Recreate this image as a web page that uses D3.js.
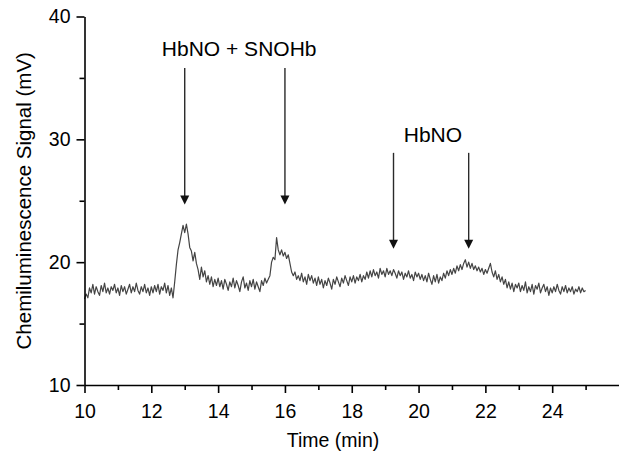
<!DOCTYPE html>
<html>
<head>
<meta charset="utf-8">
<script src="https://cdn.jsdelivr.net/npm/d3@7"></script>
<style>
  body { margin: 0; background: #fff; }
  svg text { font-family: "Liberation Sans", Arial, Helvetica, sans-serif; fill: #000; }
  .axis path, .axis line { stroke: #000; stroke-width: 1.6; }
  .signal { fill: none; stroke: #444; stroke-width: 1.2; stroke-linejoin: round; }
  .arrow line { stroke: #2a2a2a; stroke-width: 1.4; }
  .arrow path { fill: #111; }
</style>
</head>
<body>
<script>
// sampling of the trace (min)
var sampleStart = 10;
var sampleStep = 0.05;

// chemiluminescence signal (mV), one row per minute, 20 samples each
var signal = [
  17.0, 17.4, 17.1, 17.9, 17.5, 18.2, 17.4, 18.0, 17.6, 17.3, 18.1, 17.6, 18.3, 17.5, 17.9, 17.4, 18.0, 17.7, 18.2, 17.5,
  17.9, 17.3, 18.1, 17.6, 18.0, 17.4, 17.8, 18.2, 17.5, 18.0, 17.6, 18.3, 17.7, 17.4, 18.0, 17.6, 18.2, 17.5, 17.9, 17.3,
  18.0, 17.5, 18.1, 17.6, 18.2, 17.4, 18.0, 17.7, 18.3, 17.5, 18.1, 17.3, 17.9, 17.1, 18.4, 19.8, 21.0, 21.6, 22.3, 23.0,
  22.4, 23.1, 22.3, 21.2, 20.9, 20.1, 20.8, 19.9, 19.4, 18.6, 19.6, 18.8, 19.3, 18.4, 18.9, 18.2, 18.8, 18.0, 18.6, 18.1,
  18.7, 18.0, 18.5, 17.8, 18.6, 18.2, 17.7, 18.4, 18.0, 18.7, 17.9, 18.5, 18.1, 17.6, 18.4, 18.8, 17.9, 18.3, 17.7, 18.5,
  18.0, 18.6, 17.8, 18.4, 18.0, 17.6, 18.5, 18.1, 18.7, 18.3, 18.6, 18.9, 20.0, 20.4, 20.2, 22.0, 21.0, 20.6, 21.0, 20.5,
  20.8, 20.3, 20.6, 19.9, 19.2, 18.9, 19.2, 18.6, 18.9, 18.5, 19.1, 18.4, 18.8, 18.2, 19.0, 18.5, 18.9, 18.3, 18.7, 18.1,
  18.8, 18.2, 18.6, 17.9, 18.5, 18.1, 18.7, 18.3, 17.8, 18.6, 18.2, 18.8, 18.4, 18.0, 18.7, 18.3, 18.9, 18.5, 18.1, 18.8,
  18.4, 18.9, 18.3, 18.8, 18.5, 19.0, 18.4, 18.9, 18.6, 19.2, 18.7, 19.3, 18.8, 19.4, 18.9, 19.2, 18.7, 19.5, 19.0, 19.3,
  18.8, 19.5, 19.0, 19.3, 18.9, 19.4, 19.1, 18.7, 19.3, 18.9, 19.2, 18.6, 19.1, 18.8, 19.3, 18.7, 19.0, 18.5, 19.2, 18.8,
  19.1, 18.6, 19.0, 18.5, 18.9, 18.4, 19.1, 18.6, 18.2, 18.9, 18.4, 19.0, 18.3, 18.8, 18.5, 19.1, 18.7, 19.3, 18.9, 19.4,
  19.0, 19.5, 19.1, 19.7, 19.3, 19.8, 19.4, 19.9, 20.2, 19.6, 20.0, 19.5, 19.9, 19.4, 19.7, 19.3, 19.6, 19.2, 19.5, 19.0,
  19.4, 19.1, 19.5, 19.9, 19.2, 18.8, 19.3, 18.6, 19.0, 18.4, 18.8, 18.2, 18.6, 17.9, 18.4, 17.8, 18.3, 17.6, 18.2, 17.9,
  18.3, 17.6, 18.1, 17.7, 18.4, 17.5, 18.0, 17.6, 18.2, 17.4, 18.1, 17.8, 18.3, 17.5, 17.9, 18.2, 17.6, 18.0, 17.3, 17.9,
  17.5, 18.0, 17.6, 18.2, 17.7, 17.4, 18.0, 17.6, 18.1, 17.5, 17.9, 17.6, 18.0, 17.4, 17.8, 17.6, 18.0, 17.5, 17.9, 17.6,
  17.7
];

// axis ticks
var xTicks = [10, 12, 14, 16, 18, 20, 22, 24];
var xMinorTicks = [11, 13, 15, 17, 19, 21, 23, 25];
var yTicks = [10, 20, 30, 40];
var yMinorTicks = [15, 25, 35];

// injection arrows: time, top of shaft and tip (mV)
var arrowTimes = [13.0, 16.0, 19.25, 21.5];
var arrowTops = [35.8, 35.8, 28.9, 28.9];
var arrowTips = [24.7, 24.7, 21.1, 21.1];

// annotation labels
var labelTexts = ["HbNO + SNOHb", "HbNO"];
var labelTimes = [14.63, 20.43];
var labelLevels = [36.75, 29.8];

var width = 619, height = 454;

var x = d3.scaleLinear().domain([10, 26]).range([84.5, 619]);
var y = d3.scaleLinear().domain([10, 40]).range([385, 16.5]);

var svg = d3.select("body").append("svg")
    .attr("width", width)
    .attr("height", height);

var data = signal.map(function(v, i) {
    return { t: sampleStart + i * sampleStep, v: v };
});

var line = d3.line()
    .x(function(d) { return x(d.t); })
    .y(function(d) { return y(d.v); });

svg.append("path")
    .datum(data)
    .attr("class", "signal")
    .attr("d", line);

// x axis
svg.append("g")
    .attr("class", "axis")
    .attr("transform", "translate(0," + y(10) + ")")
    .call(d3.axisBottom(x).tickValues(xMinorTicks).tickSize(5).tickFormat(""))
    .call(function(g) { g.select(".domain").remove(); });

var xAxis = svg.append("g")
    .attr("class", "axis")
    .attr("transform", "translate(0," + y(10) + ")")
    .call(d3.axisBottom(x).tickValues(xTicks).tickSize(8).tickSizeOuter(0).tickPadding(11));
xAxis.selectAll("text").style("font-size", "19.5px");

// y axis
svg.append("g")
    .attr("class", "axis")
    .attr("transform", "translate(" + x(10) + ",0)")
    .call(d3.axisLeft(y).tickValues(yMinorTicks).tickSize(5).tickFormat(""))
    .call(function(g) { g.select(".domain").remove(); });

var yAxis = svg.append("g")
    .attr("class", "axis")
    .attr("transform", "translate(" + x(10) + ",0)")
    .call(d3.axisLeft(y).tickValues(yTicks).tickSize(8).tickSizeOuter(0).tickPadding(6));
yAxis.selectAll("text").style("font-size", "19.5px");

// axis titles
svg.append("text")
    .attr("x", 333)
    .attr("y", 447)
    .attr("text-anchor", "middle")
    .style("font-size", "19.5px")
    .text("Time (min)");

svg.append("text")
    .attr("transform", "translate(31," + ((y(10) + y(40)) / 2) + ") rotate(-90)")
    .attr("text-anchor", "middle")
    .style("font-size", "20.5px")
    .text("Chemiluminescence Signal (mV)");

// arrows
var arrows = svg.selectAll(".arrow")
    .data(arrowTimes)
  .enter().append("g")
    .attr("class", "arrow");

arrows.append("line")
    .attr("x1", function(d) { return x(d); })
    .attr("x2", function(d) { return x(d); })
    .attr("y1", function(d, i) { return y(arrowTops[i]); })
    .attr("y2", function(d, i) { return y(arrowTips[i]) - 6; });

arrows.append("path")
    .attr("d", function(d, i) {
        var px = x(d), py = y(arrowTips[i]);
        return "M" + (px - 4.5) + "," + (py - 9) + "L" + (px + 4.5) + "," + (py - 9) + "L" + px + "," + py + "Z";
    });

svg.selectAll(".label")
    .data(labelTexts)
  .enter().append("text")
    .attr("class", "label")
    .attr("x", function(d, i) { return x(labelTimes[i]); })
    .attr("y", function(d, i) { return y(labelLevels[i]); })
    .attr("text-anchor", "middle")
    .style("font-size", "21px")
    .text(function(d) { return d; });
</script>
</body>
</html>
